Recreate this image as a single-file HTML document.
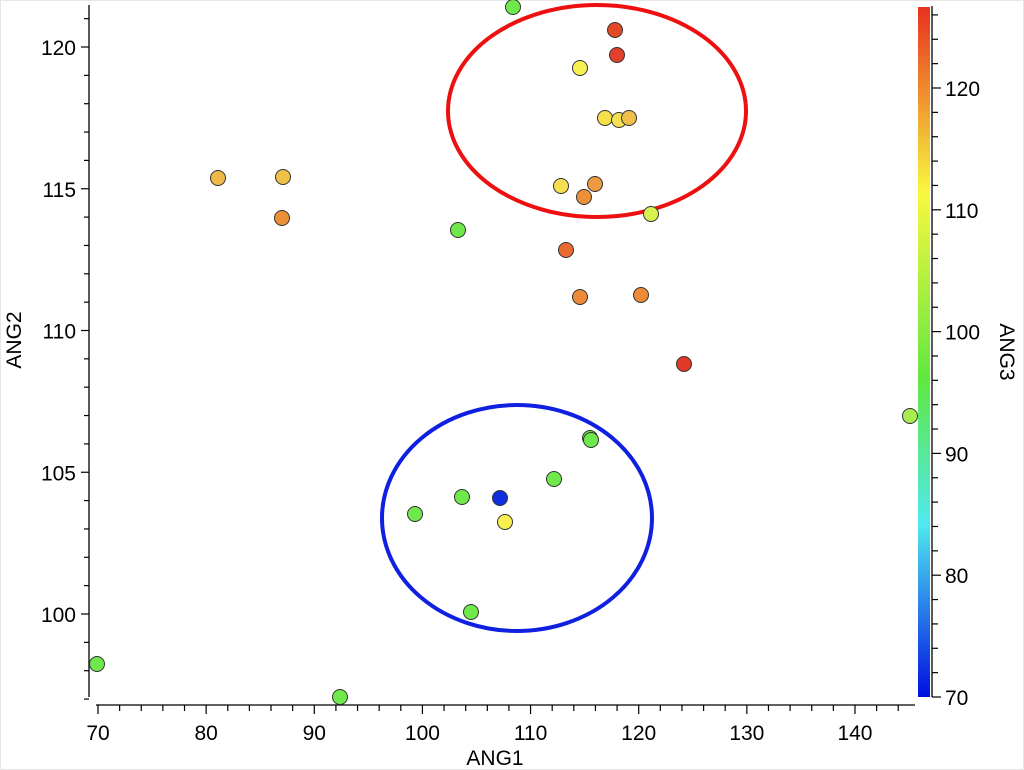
<!DOCTYPE html>
<html><head><meta charset="utf-8"><style>
body{margin:0;background:#fff;}
svg{display:block;font-family:"Liberation Sans",sans-serif;}
</style></head><body>
<svg width="1024" height="770" viewBox="0 0 1024 770" xmlns="http://www.w3.org/2000/svg">
<defs>
<linearGradient id="cb" x1="0" y1="1" x2="0" y2="0">
<stop offset="0" stop-color="#0010e0"/>
<stop offset="0.25" stop-color="#50e8f0"/>
<stop offset="0.46" stop-color="#60e840"/>
<stop offset="0.73" stop-color="#f8f840"/>
<stop offset="0.86" stop-color="#f09a30"/>
<stop offset="1" stop-color="#e83020"/>
</linearGradient>
</defs>
<rect x="0" y="0" width="1024" height="770" fill="#fff"/>
<rect x="0.5" y="0.5" width="1023" height="769" fill="none" stroke="#e6e6e6"/>
<g stroke="#000" stroke-width="1.3">
<line x1="89" y1="5" x2="89" y2="697"/>
<line x1="96" y1="705" x2="915" y2="705"/>
</g>
<g stroke="#000" stroke-width="1.2" id="ticks"></g>
<g font-size="21" fill="#000" id="labels"></g>
<text x="495" y="765" font-size="21" text-anchor="middle">ANG1</text>
<text transform="translate(21,340) rotate(-90)" font-size="21" text-anchor="middle">ANG2</text>
<text transform="translate(1000,352) rotate(90)" font-size="21" text-anchor="middle">ANG3</text>
<rect x="918" y="7" width="12" height="690" fill="url(#cb)"/>
<line x1="932" y1="6" x2="932" y2="697" stroke="#000" stroke-width="1.3"/>
<ellipse cx="597" cy="111" rx="149" ry="106" fill="none" stroke="#ee1010" stroke-width="4"/>
<ellipse cx="517" cy="518" rx="135" ry="113" fill="none" stroke="#1020e0" stroke-width="4"/>
<g stroke="#333" stroke-width="1" id="pts"></g>
<script>
var NS="http://www.w3.org/2000/svg";
function el(p,t,a,txt){var e=document.createElementNS(NS,t);for(var k in a)e.setAttribute(k,a[k]);if(txt!==undefined)e.textContent=txt;document.getElementById(p).appendChild(e);}
for(var v=70;v<=144;v+=2){var x=98+(v-70)*10.814;el('ticks','line',{x1:x,y1:705,x2:x,y2:v%10==0?714:711});
 if(v%10==0)el('labels','text',{x:x,y:740,'text-anchor':'middle'},v);}
for(var v=97;v<=121;v++){var y=614-(v-100)*28.35;el('ticks','line',{x1:89,y1:y,x2:v%5==0?81:84,y2:y});
 if(v%5==0)el('labels','text',{x:76,y:y+8,'text-anchor':'end'},v);}
for(var v=70;v<=126;v+=2){var y=697-(v-70)*12.18;el('ticks','line',{x1:932,y1:y,x2:v%10==0?941:938,y2:y});
 if(v%10==0)el('labels','text',{x:945,y:y+8},v);}
var P=[[513,7,'#6ee84a'],[615,30,'#e24a26'],[617,55,'#e2402a'],[580,68,'#f8f050'],[605,118,'#f6e04a'],[619,120,'#f4e050'],[629,118,'#efc04a'],
[218,178,'#f0b848'],[283,177,'#f0c048'],[282,218,'#ec9038'],[561,186,'#f6e050'],[595,184,'#ee9a40'],[584,197,'#ec9038'],[651,214,'#d8f050'],
[458,230,'#6ee84a'],[566,250,'#e86a30'],[580,297,'#ec8a38'],[641,295,'#ec8a38'],[684,364,'#e03a26'],[910,416,'#a8ec50'],
[590,438,'#6ee84a'],[591,440,'#6ee84a'],[554,479,'#6ee84a'],[462,497,'#6ee84a'],[415,514,'#6ee84a'],[500,498,'#1030e0'],[505,522,'#f8f050'],
[471,612,'#6ee84a'],[97,664,'#6ee84a'],[340,697,'#6ee84a']];
P.forEach(function(p){el('pts','circle',{cx:p[0],cy:p[1],r:7.5,fill:p[2]});});
</script>
</svg>
</body></html>
